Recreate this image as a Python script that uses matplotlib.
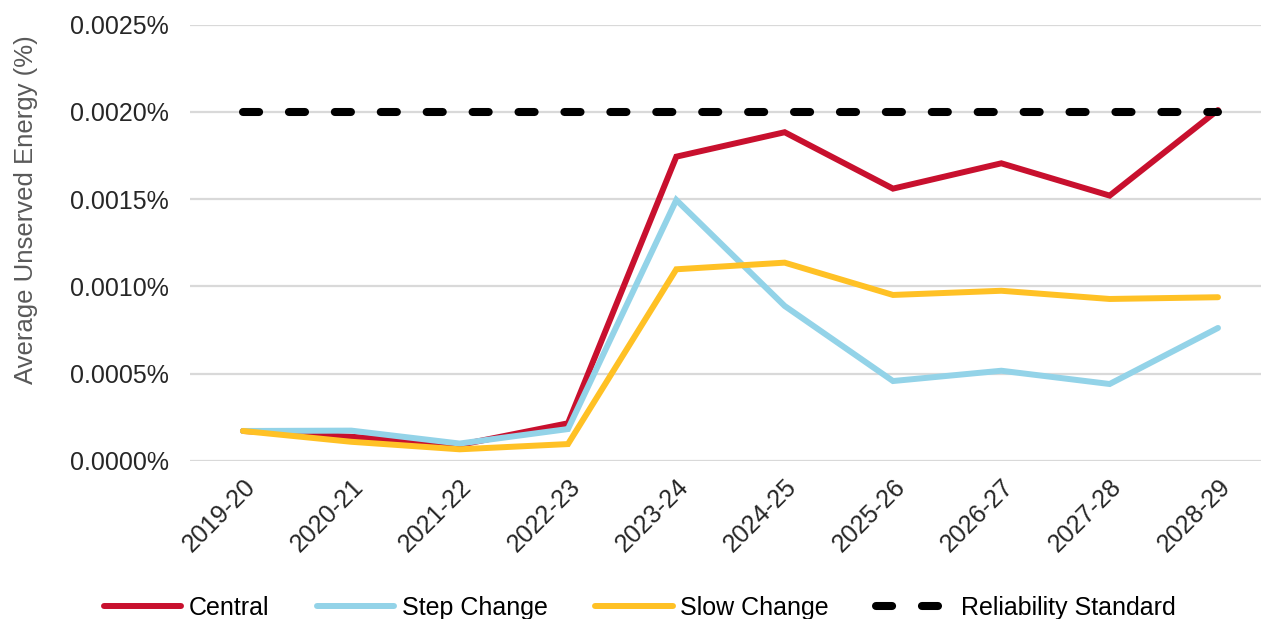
import numpy as np
import matplotlib
matplotlib.use("Agg")
import matplotlib.pyplot as plt
from matplotlib.ticker import FuncFormatter

plt.rcParams["font.family"] = ["Liberation Sans", "DejaVu Sans"]

years = ["2019-20", "2020-21", "2021-22", "2022-23", "2023-24",
         "2024-25", "2025-26", "2026-27", "2027-28", "2028-29"]
central = [0.000172, 0.000139, 0.000092, 0.000216, 0.001743,
           0.001883, 0.001560, 0.001705, 0.001520, 0.002010]
step_change = [0.000172, 0.000174, 0.000100, 0.000183, 0.001495,
               0.000888, 0.000458, 0.000517, 0.000441, 0.000762]
slow_change = [0.000172, 0.000110, 0.000067, 0.000097, 0.001098,
               0.001136, 0.000951, 0.000975, 0.000928, 0.000938]
reliability_standard = [0.0020] * len(years)

W, H = 1261, 619
fig = plt.figure(figsize=(W / 100, H / 100), dpi=100)
ax = fig.add_axes([190 / W, (H - 461) / H, (W - 190) / W, (461 - 24.5) / H])

x = np.arange(len(years))
ax.plot(x, central, color="#C8102E", lw=4.3, solid_capstyle="round",
        solid_joinstyle="miter", label="Central", zorder=3)
ax.plot(x, step_change, color="#93D3E8", lw=4.3, solid_capstyle="round",
        solid_joinstyle="miter", label="Step Change", zorder=3)
ax.plot(x, slow_change, color="#FFC125", lw=4.3, solid_capstyle="round",
        solid_joinstyle="miter", label="Slow Change", zorder=3)
ax.plot(x, reliability_standard, color="black", lw=5.8, ls=(0, (2.0, 3.7)),
        dash_capstyle="round", label="Reliability Standard", zorder=4)

ax.set_xlim(-0.489, 9.397)
ax.set_ylim(0, 0.0025)
ax.set_yticks(np.arange(0, 0.00251, 0.0005))
ax.yaxis.set_major_formatter(FuncFormatter(lambda v, p: f"{v:.4f}%"))
ax.set_xticks(x)
ax.set_xticklabels(years, rotation=45, ha="right", rotation_mode="anchor")
ax.tick_params(axis="both", length=0, labelsize=18, colors="#262626")
ax.tick_params(axis="y", pad=15)
ax.tick_params(axis="x", pad=10)
ax.grid(True, axis="y", color="#D9D9D9", lw=1.6)
ax.set_axisbelow(True)
for s in ax.spines.values():
    s.set_visible(False)

ax.set_ylabel("Average Unserved Energy (%)", fontsize=18.5, color="#595959")
ax.yaxis.set_label_coords((38 - 190) / (W - 190), (461 - 210) / (461 - 24.5))

fig.legend(loc="center", bbox_to_anchor=(640 / W, (H - 608) / H), ncol=4,
           frameon=False, fontsize=18, handlelength=3.1, handletextpad=0.3,
           columnspacing=1.9)

fig.savefig("out.png", dpi=100)
